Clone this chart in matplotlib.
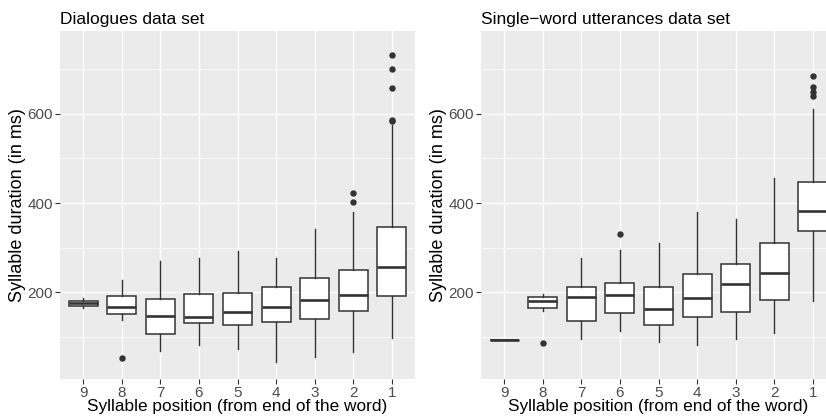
import matplotlib.pyplot as plt
from matplotlib.ticker import MultipleLocator

plt.rcParams['font.family'] = ['Liberation Sans', 'DejaVu Sans']

# ---------------- data ----------------
positions = ['9', '8', '7', '6', '5', '4', '3', '2', '1']

# Dialogues data set
dlg_whislo = [165, 138, 69, 81, 74, 44, 56, 66, 98]
dlg_q1 = [170, 151, 107, 132, 126, 133, 141, 158, 192]
dlg_med = [175, 168, 146, 144, 155, 166, 183, 195, 257]
dlg_q3 = [181, 191, 184, 196, 198, 213, 233, 251, 347]
dlg_whishi = [187, 228, 270, 276, 292, 277, 341, 379, 576]
dlg_fliers = [[], [52], [], [], [], [], [], [402, 423], [585, 587, 658, 700, 732]]

# Single-word utterances data set
sw_whislo = [93, 158, 95, 114, 88, 83, 95, 108, 181]
sw_q1 = [93, 164, 136, 153, 126, 144, 155, 183, 337]
sw_med = [93, 181, 189, 193, 163, 187, 219, 243, 382]
sw_q3 = [93, 189, 213, 222, 212, 242, 263, 310, 448]
sw_whishi = [93, 196, 277, 295, 310, 381, 365, 457, 610]
sw_fliers = [[], [86], [], [330], [], [], [], [], [641, 648, 661, 685]]

titles = ['Dialogues data set', 'Single\u2212word utterances data set']


def make_stats(lo, q1, med, q3, hi, fl):
    return [dict(whislo=lo[i], q1=q1[i], med=med[i], q3=q3[i], whishi=hi[i], fliers=fl[i])
            for i in range(len(lo))]


fig = plt.figure(figsize=(8.26, 4.16), dpi=100)
ax1 = fig.add_axes([60 / 826, 1 - 379.3 / 416, 355 / 826, 348.6 / 416])
ax2 = fig.add_axes([481 / 826, 1 - 379.3 / 416, 355 / 826, 348.6 / 416])

panels = [
    (ax1, make_stats(dlg_whislo, dlg_q1, dlg_med, dlg_q3, dlg_whishi, dlg_fliers)),
    (ax2, make_stats(sw_whislo, sw_q1, sw_med, sw_q3, sw_whishi, sw_fliers)),
]

ink = '#333333'
for (ax, stats), title in zip(panels, titles):
    ax.set_facecolor('#EBEBEB')
    for s in ax.spines.values():
        s.set_visible(False)
    ax.yaxis.set_major_locator(MultipleLocator(200))
    ax.yaxis.set_minor_locator(MultipleLocator(100))
    ax.grid(which='major', color='white', lw=1.0)
    ax.grid(which='minor', axis='y', color='white', lw=0.5)
    ax.set_axisbelow(True)

    x = list(range(1, len(positions) + 1))
    ax.bxp(stats, positions=x, widths=0.75, showcaps=False, patch_artist=True,
           boxprops=dict(facecolor='white', edgecolor=ink, lw=1.1),
           whiskerprops=dict(color=ink, lw=1.0),
           medianprops=dict(color=ink, lw=1.9),
           flierprops=dict(marker='o', markerfacecolor=ink, markeredgecolor=ink,
                           markersize=3.6, linestyle='none'))

    ax.set_xlim(0.4, len(positions) + 0.6)
    ax.set_ylim(5, 786.5)
    ax.set_xticks(x)
    ax.set_xticklabels(positions)
    ax.tick_params(which='major', length=3.8, width=0.8, color=ink,
                   labelcolor='#4D4D4D', labelsize=11, pad=1.2)
    ax.tick_params(which='minor', length=0)
    ax.set_xlabel('Syllable position (from end of the word)', fontsize=12.4, labelpad=-0.8)
    ax.set_ylabel('Syllable duration (in ms)', fontsize=13, labelpad=1)
    ax.set_title(title, loc='left', fontsize=12.5, pad=5)

fig.savefig('out.png', dpi=100)
